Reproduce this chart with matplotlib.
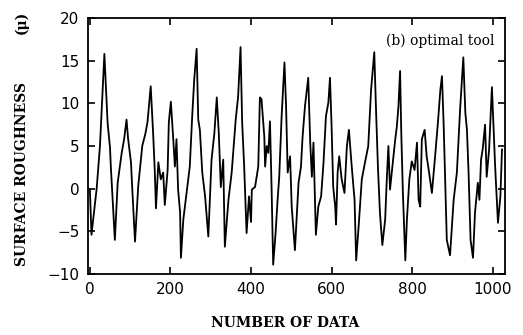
import matplotlib
matplotlib.use("Agg")
import matplotlib.pyplot as plt

# vertices of the trace (data index, roughness in micron)
idx = [0, 4, 17, 25, 36, 44, 50, 52, 62, 69, 79, 85, 91, 95, 102, 105, 112, 120,
       130, 138, 143, 151, 157, 161, 164, 170, 176, 182, 186, 193, 196, 201, 207,
       211, 215, 219, 224, 226, 232, 240, 248, 254, 259, 265, 269, 273, 279, 286,
       294, 302, 309, 315, 320, 325, 331, 335, 344, 352, 362, 368, 374, 378, 383,
       389, 395, 400, 402, 410, 418, 422, 426, 433, 435, 439, 443, 447, 451, 455,
       461, 466, 470, 476, 483, 487, 491, 497, 501, 509, 518, 524, 528, 534, 542,
       547, 551, 555, 559, 561, 567, 574, 580, 586, 592, 596, 600, 604, 609, 611,
       615, 619, 625, 632, 638, 643, 650, 657, 661, 667, 675, 683, 691, 698, 706,
       710, 715, 720, 726, 733, 737, 741, 745, 750, 758, 762, 766, 770, 773, 777,
       783, 787, 793, 799, 806, 812, 816, 820, 824, 831, 836, 842, 849, 857, 864,
       870, 874, 878, 882, 886, 894, 903, 911, 919, 927, 932, 936, 940, 945, 951,
       956, 963, 967, 971, 975, 981, 985, 991, 998, 1002, 1006, 1013, 1019, 1023]
rough = [-0.1, -5.4, 0.1, 5.0, 15.8, 7.7, 4.8, 2.6, -6.0, 0.7, 4.2, 5.8, 8.1, 5.8,
         3.1, 0.2, -6.2, 0.3, 5.0, 6.5, 7.8, 12.0, 6.5, 2.2, -2.3, 3.1, 1.1, 1.9,
         -1.9, 2.2, 7.8, 10.2, 5.8, 2.6, 5.8, -0.1, -2.8, -8.1, -3.6, -0.5, 2.6,
         8.5, 12.8, 16.4, 8.1, 6.9, 1.9, -0.9, -5.6, 3.4, 6.5, 10.7, 6.5, 0.2, 3.4,
         -6.8, -1.3, 1.9, 8.1, 10.8, 16.6, 7.8, 2.6, -5.2, -0.9, -3.9, -0.1, 0.2,
         2.6, 10.7, 10.5, 6.1, 2.6, 5.0, 4.2, 7.9, 0.2, -8.9, -5.2, -1.3, 1.4, 8.5,
         14.8, 9.7, 1.9, 3.8, -2.1, -7.2, 0.7, 2.6, 6.1, 9.7, 13.0, 5.4, 1.4, 5.4,
         -2.1, -5.4, -2.1, -0.9, 3.1, 8.5, 10.1, 13.0, 7.3, 0.2, -2.1, -4.2, 1.9,
         3.8, 1.1, -0.5, 5.0, 6.9, 2.6, -1.3, -8.4, -4.5, 1.1, 3.1, 5.0, 11.6, 16.0,
         9.7, 2.6, -2.8, -6.6, -3.6, 1.1, 5.0, -0.1, 2.2, 5.8, 7.3, 9.7, 13.8, 6.5,
         -0.5, -8.4, -3.6, 1.1, 3.2, 2.2, 5.4, -1.3, -2.1, 5.8, 6.9, 3.8, 1.9, -0.5,
         3.8, 7.8, 11.6, 13.2, 7.8, 1.1, -6.0, -7.8, -1.3, 1.9, 9.3, 15.4, 8.9, 6.9,
         1.9, -6.0, -8.1, -2.8, 0.7, -1.3, 3.4, 4.6, 7.5, 1.4, 4.6, 11.9, 7.3, 2.6,
         -4.0, -0.9, 4.6]

xticks = [0, 200, 400, 600, 800, 1000]
yticks = [-10, -5, 0, 5, 10, 15, 20]

fig = plt.figure(figsize=(5.23, 3.35), dpi=100)
ax = fig.add_axes([0.168, 0.182, 0.798, 0.764])

ax.plot(idx, rough, color="black", lw=1.3)

ax.set_xlim(-5, 1031)
ax.set_ylim(-10, 20)
ax.set_xticks(xticks)
ax.set_yticks(yticks)
ax.set_yticklabels([str(v).replace("-", "\u2212") for v in yticks])
ax.tick_params(direction="in", length=5, width=1.2, top=True, right=True,
               labelsize=11, pad=6)
for s in ax.spines.values():
    s.set_linewidth(1.3)

ax.text(0.975, 0.91, "(b) optimal tool", transform=ax.transAxes, ha="right",
        va="center", family="DejaVu Serif", fontsize=10)

ax.set_xlabel("NUMBER OF DATA", family="DejaVu Serif", fontweight="bold",
              fontsize=10)
ax.xaxis.set_label_coords(0.472, -0.165)

fig.text(0.042, 0.48, "SURFACE ROUGHNESS", rotation=90, ha="center",
         va="center", family="DejaVu Serif", fontweight="bold", fontsize=10)
fig.text(0.042, 0.934, "(\u03bc)", rotation=90, ha="center", va="center",
         family="DejaVu Serif", fontweight="bold", fontsize=10)

fig.savefig("out.png", dpi=100)
